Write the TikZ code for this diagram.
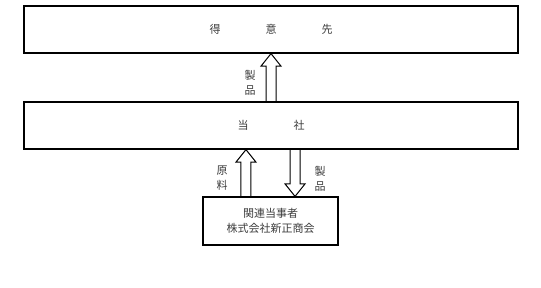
\documentclass[tikz,border=0pt]{standalone}
\usepackage{fontspec}
\usepackage{tikz}
\usetikzlibrary{calc}
\newfontfamily\jpfont{Noto Sans CJK JP}
\definecolor{textgray}{RGB}{60,60,60}

% hollow block arrow from #1 to #2
\newcommand{\hollowarrow}[2]{%
  \coordinate (hb) at ($(#2)!9.4pt!(#1)$);
  \draw[blockline] ($(#1)!3.75pt!-90:(#2)$) -- ($(hb)!3.75pt!-90:(#2)$)
    -- ($(hb)!7.5pt!-90:(#2)$) -- (#2) -- ($(hb)!7.5pt!90:(#2)$)
    -- ($(hb)!3.75pt!90:(#2)$) -- ($(#1)!3.75pt!90:(#2)$);
}

\begin{document}
\begin{tikzpicture}[x=0.75pt, y=-0.75pt,
    every node/.style={font=\jpfont\fontsize{8.25}{11.25}\selectfont, text=textgray},
    box/.style={draw, line width=0.9pt, inner sep=0pt, align=center},
    blockline/.style={draw, line width=0.75pt, line join=miter},
    vlabel/.style={align=center, inner sep=0pt}]
  \useasboundingbox (0,0) rectangle (541,287);

  \node[box, minimum width=370.5pt, minimum height=35.25pt] (cust) at (271,29.5)
    {得\hspace{33.75pt}意\hspace{33.75pt}先};
  \node[box, minimum width=370.5pt, minimum height=35.25pt] (self) at (271,125.5)
    {当\hspace{33.75pt}社};
  \node[box, minimum width=101.25pt, minimum height=36pt] (rel) at (270.5,221)
    {関連当事者\\株式会社新正商会};

  % connectors
  \coordinate (a1s) at (self.north);
  \coordinate (a1e) at (cust.south);
  \hollowarrow{a1s}{a1e}
  \coordinate (a2s) at ([xshift=-18.4pt]rel.north);
  \coordinate (a2e) at (a2s |- self.south);
  \hollowarrow{a2s}{a2e}
  \coordinate (a3s) at ([xshift=18.4pt]self.south -| rel.north);
  \coordinate (a3e) at (a3s |- rel.north);
  \hollowarrow{a3s}{a3e}

  \node[vlabel] (l1) at (250,83) {製\\品};
  \node[vlabel] (l2) at (222,178.5) {原\\料};
  \node[vlabel] (l3) at (320,178.5) {製\\品};
\end{tikzpicture}
\end{document}
